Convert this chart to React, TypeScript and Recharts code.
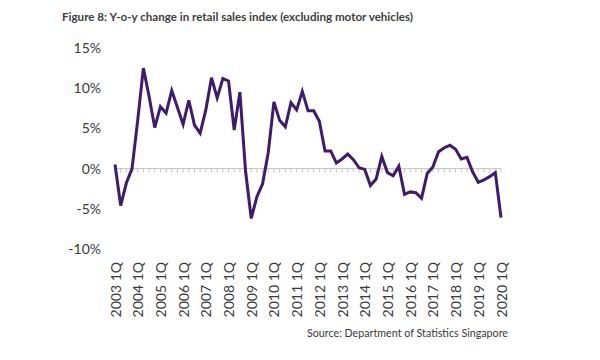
import React from "react";
import { LineChart, Line, XAxis, YAxis, ReferenceLine } from "recharts";

const years = [2003, 2004, 2005, 2006, 2007, 2008, 2009, 2010, 2011, 2012, 2013, 2014, 2015, 2016, 2017, 2018, 2019, 2020];
const quarters = ["1Q", "2Q", "3Q", "4Q"];
const categories = years.flatMap((y) => quarters.map((q) => `${y} ${q}`)).slice(0, 69);

// y-o-y % change, one row per year
const yoyChange = [
  0.5, -4.6, -1.8, 0.0,
  6.0, 12.5, 9.0, 5.1,
  7.7, 6.9, 9.7, 7.6,
  5.5, 8.5, 5.4, 4.4,
  7.3, 11.3, 8.8, 11.2,
  10.9, 4.8, 9.5, -0.3,
  -6.2, -3.5, -1.9, 2.0,
  8.3, 6.0, 5.2, 8.2,
  7.3, 9.6, 7.2, 7.2,
  5.9, 2.2, 2.2, 0.7,
  1.2, 1.8, 1.1, 0.1,
  -0.1, -2.1, -1.3, 1.5,
  -0.5, -0.9, 0.3, -3.2,
  -2.9, -3.0, -3.7, -0.6,
  0.2, 2.1, 2.6, 2.9,
  2.4, 1.2, 1.4, -0.4,
  -1.7, -1.4, -1.0, -0.5,
  -6.1,
];

const yTicks = [-10, -5, 0, 5, 10, 15];

const title = "Figure 8: Y-o-y change in retail sales index (excluding motor vehicles)";
const source = "Source: Department of Statistics Singapore";

const data = categories.map((c, i) => ({ quarter: c, value: yoyChange[i] }));

const FONT = "Lato, 'Open Sans', sans-serif";
const TEXT = "#3a3a3a";

const XTick = (props: any) => {
  const { x, y, payload } = props;
  return (
    <text
      x={x}
      y={y}
      transform={`rotate(-90, ${x}, ${y})`}
      textAnchor="end"
      dominantBaseline="central"
      fontSize={14}
      fontFamily={FONT}
      fill={TEXT}
    >
      {payload.value}
    </text>
  );
};

export default function App() {
  return (
    <div style={{ position: "absolute", left: 0, top: 0, width: 600, height: 360, background: "#fff" }}>
      <LineChart
        width={600}
        height={360}
        data={data}
        margin={{ top: 48, right: 99, bottom: 61, left: 0 }}
      >
        <XAxis
          dataKey="quarter"
          interval={3}
          height={50}
          axisLine={false}
          tickLine={false}
          tickSize={0}
          tickMargin={13}
          tick={<XTick />}
        />
        <YAxis
          domain={[-10, 15]}
          ticks={yTicks}
          width={115}
          axisLine={false}
          tickLine={false}
          tickSize={0}
          tickMargin={14}
          tickFormatter={(v: number) => `${v}%`}
          tick={{ fontSize: 14, fontFamily: FONT, fill: TEXT }}
        />
        <ReferenceLine y={0} stroke="#c4c4c4" strokeWidth={1} />
        {categories.map((c) => (
          <ReferenceLine
            key={c}
            segment={[{ x: c, y: 0 }, { x: c, y: -0.5 }]}
            stroke="#c4c4c4"
            strokeWidth={1}
          />
        ))}
        <Line
          type="linear"
          dataKey="value"
          stroke="#3f1a6f"
          strokeWidth={3}
          dot={false}
          isAnimationActive={false}
        />
      </LineChart>
      <svg width={600} height={360} style={{ position: "absolute", left: 0, top: 0, pointerEvents: "none" }}>
        <text x={62} y={21} fontSize={12} fontWeight="bold" fontFamily={FONT} fill="#404040" textLength={351} lengthAdjust="spacingAndGlyphs">
          {title}
        </text>
        <text x={307} y={337} fontSize={12} fontFamily={FONT} fill={TEXT} textLength={201} lengthAdjust="spacingAndGlyphs">
          {source}
        </text>
      </svg>
    </div>
  );
}
